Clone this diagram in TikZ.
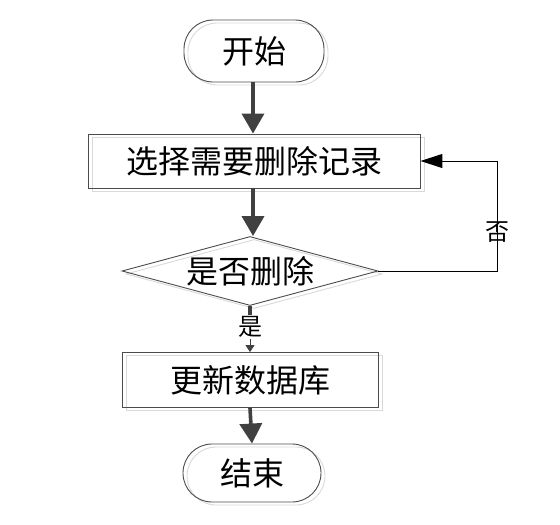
\documentclass[tikz,border=0pt]{standalone}
\usepackage{fontspec}
\newfontfamily\cjk{Noto Sans CJK SC}
\usetikzlibrary{shapes.geometric,arrows.meta,shadows}
\begin{document}
\begin{tikzpicture}[x=1pt,y=-1pt,
  outl/.style={draw=black!70,line width=0.9pt,
    copy shadow={shadow xshift=4pt,shadow yshift=-3pt,draw=black!15,fill=none}},
  term/.style={outl,rectangle,rounded corners=29pt,inner sep=0pt},
  procbox/.style={outl,rectangle,inner sep=0pt},
  decide/.style={outl,diamond,aspect=3.7,inner sep=0pt},
  maintext/.style={font=\cjk\fontsize{32}{32}\selectfont},
  smalltext/.style={font=\cjk\fontsize{24}{24}\selectfont},
  thick arrow/.style={draw=black!75,line width=3.6pt,-{Triangle[width=22pt,length=20pt]}},
  back arrow/.style={draw=black,line width=1pt,-{Triangle[width=14pt,length=22pt]}},
]
\useasboundingbox (0,0) rectangle (560,525);
\node[term,maintext,minimum width=140pt,minimum height=62pt] (start) at (254,51) {开始};
\node[procbox,maintext,minimum width=332pt,minimum height=54pt] (sel) at (254,161) {选择需要删除记录};
\node[decide,maintext,minimum width=256pt,minimum height=69pt] (dec) at (250,271) {是否删除};
\node[procbox,maintext,minimum width=256pt,minimum height=55pt] (upd) at (250,380) {更新数据库};
\node[term,maintext,minimum width=138pt,minimum height=58pt] (fin) at (252,473) {结束};
\coordinate (c1) at (497,271);
\coordinate (c2) at (497,161);
\node[smalltext,fill=white,inner sep=1pt] (no) at (497,232) {否};
\node[smalltext,fill=white,inner sep=1pt] (yes) at (250,327) {是};
\draw[thick arrow] (start.south -| 253,0) -- (sel.north -| 253,0);
\draw[thick arrow] (sel.south -| 253,0) -- (dec.north -| 253,0);
\draw[back arrow] (dec.east) -- (c1) -- (c2) -- (sel.east);
\draw[draw=black!75,line width=3.6pt] (dec.south) -- (yes.north);
\draw[draw=black!75,line width=1pt,-{Triangle[width=9pt,length=7pt]}] (yes.south) -- (upd.north);
\draw[thick arrow] (upd.south) -- (fin.north);
\end{tikzpicture}
\end{document}
